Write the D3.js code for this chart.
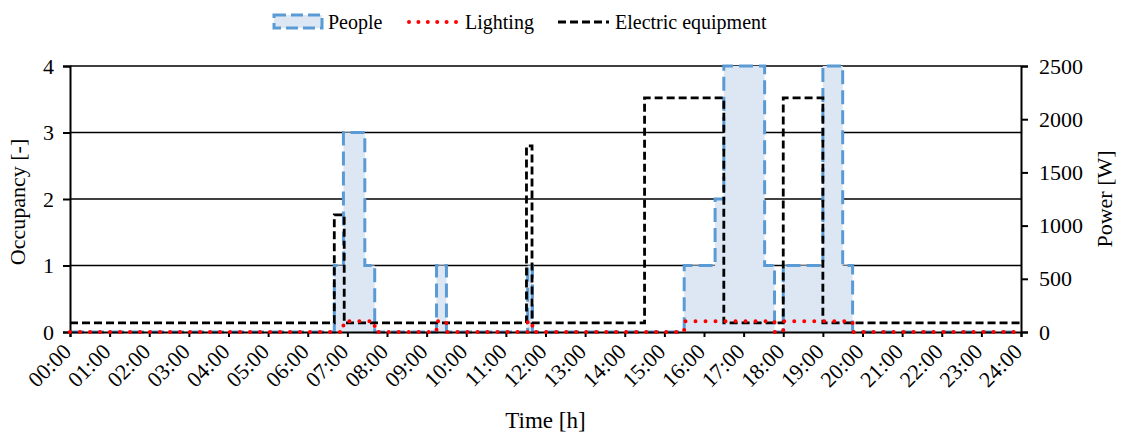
<!DOCTYPE html>
<html>
<head>
<meta charset="utf-8">
<script src="https://cdn.jsdelivr.net/npm/d3@7"></script>
<style>
  html, body { margin: 0; padding: 0; background: #ffffff; }
  svg { display: block; }
  svg text { font-family: "Liberation Serif", "Times New Roman", serif !important; fill: #000; }
</style>
</head>
<body>
<svg id="chart" width="1123" height="435"></svg>
<script>
// ---- data ----
const hourTicks = d3.range(0, 25);
const hourLabels = hourTicks.map(h => String(h).padStart(2, "0") + ":00");
const occupancyTicks = [0, 1, 2, 3, 4];
const powerTicks = [0, 500, 1000, 1500, 2000, 2500];

const peopleTimes  = [0, 6.67, 6.9, 7.44, 7.69, 9.25, 9.5, 11.55, 11.67, 15.5, 16.28, 16.5, 17.53, 17.78, 18.0, 19.0, 19.5, 19.75, 24];
const peopleValues = [0, 1,    3,   1,    0,    1,    0,   1,     0,     1,    2,     4,    1,     0,     1,    4,    1,    0,     0];

const lightingTimes  = [0, 6.9, 7.69, 9.25, 9.5, 11.55, 11.67, 15.5, 17.78, 18.0, 19.75, 24];
const lightingValues = [0, 100, 0,    100,  0,   100,   0,     100,  0,     100,  0,     0];

const equipTimes  = [0,  6.67, 6.92, 11.52, 11.66, 14.5, 16.5, 18.0, 19.0, 24];
const equipValues = [85, 1100, 85,   1750,  85,    2200, 85,   2200, 85,   85];

const legendNames = ["People", "Lighting", "Electric equipment"];

// ---- layout ----
const svg = d3.select("#chart");
const pL = 70, pR = 1021, pT = 66, pB = 332;

const x = d3.scaleLinear().domain([0, 24]).range([pL, pR]);
const yOcc = d3.scaleLinear().domain([0, 4]).range([pB, pT]);
const yPow = d3.scaleLinear().domain([0, 2500]).range([pB, pT]);

const zip = (ts, vs) => ts.map((t, i) => ({t, v: vs[i]}));
const people = zip(peopleTimes, peopleValues);
const lighting = zip(lightingTimes, lightingValues);
const equip = zip(equipTimes, equipValues);

// gridlines
svg.append("g").selectAll("line")
  .data(occupancyTicks.filter(d => d > 0))
  .join("line")
  .attr("x1", pL).attr("x2", pR)
  .attr("y1", d => yOcc(d)).attr("y2", d => yOcc(d))
  .attr("stroke", "#000").attr("stroke-width", 1.6);

// people area
svg.append("path")
  .datum(people)
  .attr("d", d3.area().curve(d3.curveStepAfter)
    .x(d => x(d.t)).y0(yOcc(0)).y1(d => yOcc(d.v)))
  .attr("fill", "#dce7f3");

svg.append("path")
  .datum(people)
  .attr("d", d3.line().curve(d3.curveStepAfter).x(d => x(d.t)).y(d => yOcc(d.v)))
  .attr("fill", "none")
  .attr("stroke", "#5b9bd5")
  .attr("stroke-width", 3)
  .attr("stroke-dasharray", "14,6");

// axes
const axL = svg.append("g").attr("transform", `translate(${pL},0)`)
  .call(d3.axisLeft(yOcc).tickValues(occupancyTicks).tickFormat(d3.format("d")).tickSizeOuter(0).tickSize(7).tickPadding(9));
const axR = svg.append("g").attr("transform", `translate(${pR},0)`)
  .call(d3.axisRight(yPow).tickValues(powerTicks).tickFormat(d3.format("d")).tickSizeOuter(0).tickSize(7).tickPadding(11));
const axB = svg.append("g").attr("transform", `translate(0,${pB})`)
  .call(d3.axisBottom(x).tickValues(hourTicks).tickFormat((d, i) => hourLabels[i]).tickSizeOuter(0).tickSize(5));

[axL, axR, axB].forEach(a => {
  a.select(".domain").attr("stroke", "#000").attr("stroke-width", 2);
  a.selectAll(".tick line").attr("stroke", "#000").attr("stroke-width", 2);
});
axL.selectAll("text").style("font-size", "22px");
axR.selectAll("text").style("font-size", "22px");
axB.selectAll("text")
  .style("font-size", "22px")
  .attr("text-anchor", "end")
  .attr("y", 0).attr("dy", 0)
  .attr("transform", "translate(2,21) rotate(-45)");

// equipment line
svg.append("path")
  .datum(equip)
  .attr("d", d3.line().curve(d3.curveStepAfter).x(d => x(d.t)).y(d => yPow(d.v)))
  .attr("fill", "none")
  .attr("stroke", "#000")
  .attr("stroke-width", 2.8)
  .attr("stroke-dasharray", "8,4");

// lighting line
svg.append("path")
  .datum(lighting)
  .attr("d", d3.line().curve(d3.curveStepAfter).x(d => x(d.t)).y(d => yPow(d.v)))
  .attr("fill", "none")
  .attr("stroke", "#ff0000")
  .attr("stroke-width", 4)
  .attr("stroke-linecap", "round")
  .attr("stroke-dasharray", "0,10");

// axis titles
svg.append("text")
  .attr("transform", `translate(${(pL + pR) / 2},428)`)
  .attr("text-anchor", "middle").style("font-size", "23px").text("Time [h]");
svg.append("text")
  .attr("transform", `translate(25,${(pT + pB) / 2 + 3}) rotate(-90)`)
  .attr("text-anchor", "middle").style("font-size", "22px").text("Occupancy [-]");
svg.append("text")
  .attr("transform", `translate(1112,${(pT + pB) / 2}) rotate(-90)`)
  .attr("text-anchor", "middle").style("font-size", "22px").text("Power [W]");

// legend
const lg = svg.append("g");
const ly = 22;
lg.append("rect").attr("x", 274).attr("y", 15).attr("width", 48).attr("height", 13)
  .attr("fill", "#dce7f3").attr("stroke", "#5b9bd5").attr("stroke-width", 3)
  .attr("stroke-dasharray", "12,5");
lg.append("text").attr("x", 328).attr("y", ly + 7).style("font-size", "20px").text(legendNames[0]);
lg.append("line").attr("x1", 409).attr("x2", 456).attr("y1", ly).attr("y2", ly)
  .attr("stroke", "#ff0000").attr("stroke-width", 4).attr("stroke-linecap", "round")
  .attr("stroke-dasharray", "0,9.4");
lg.append("text").attr("x", 465).attr("y", ly + 7).style("font-size", "20px").text(legendNames[1]);
lg.append("line").attr("x1", 558).attr("x2", 609).attr("y1", ly).attr("y2", ly)
  .attr("stroke", "#000").attr("stroke-width", 2.8).attr("stroke-dasharray", "8,4");
lg.append("text").attr("x", 615).attr("y", ly + 7).style("font-size", "20px").text(legendNames[2]);
</script>
</body>
</html>
